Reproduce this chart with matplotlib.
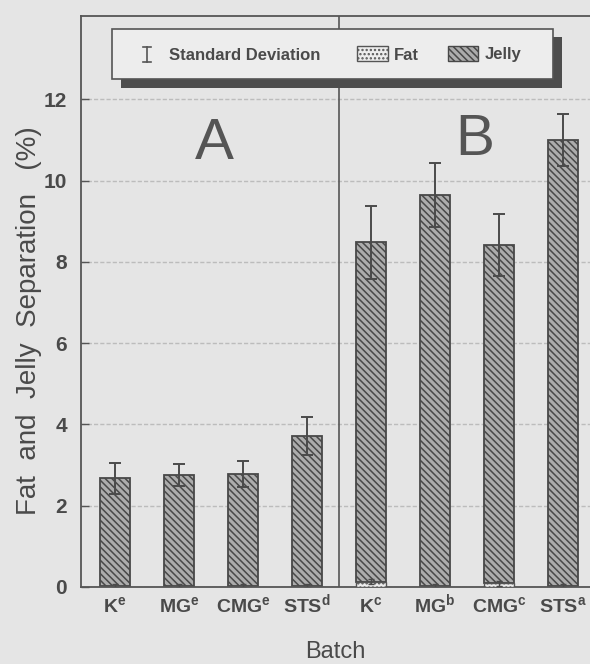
import matplotlib.pyplot as plt
import numpy as np
from matplotlib.patches import Rectangle
from matplotlib.lines import Line2D

# values
batches = [r"$\mathbf{K}^{\mathbf{e}}$", r"$\mathbf{MG}^{\mathbf{e}}$", r"$\mathbf{CMG}^{\mathbf{e}}$",
           r"$\mathbf{STS}^{\mathbf{d}}$", r"$\mathbf{K}^{\mathbf{c}}$", r"$\mathbf{MG}^{\mathbf{b}}$",
           r"$\mathbf{CMG}^{\mathbf{c}}$", r"$\mathbf{STS}^{\mathbf{a}}$"]
fat = [0.02, 0.02, 0.02, 0.02, 0.13, 0.02, 0.09, 0.02]
fat_sd = [0.05, 0.05, 0.05, 0.05, 0.06, 0.05, 0.06, 0.05]
jelly = [2.66, 2.73, 2.76, 3.70, 8.35, 9.63, 8.32, 10.99]
jelly_sd = [0.38, 0.27, 0.33, 0.47, 0.90, 0.78, 0.76, 0.64]
y_ticks = [0, 2, 4, 6, 8, 10, 12]

INK = "#4a4a4a"
PAPER = "#e5e5e5"

plt.rcParams["font.family"] = ["Liberation Sans", "DejaVu Sans"]
plt.rcParams["mathtext.fontset"] = "custom"
plt.rcParams["mathtext.rm"] = "Liberation Sans"
plt.rcParams["mathtext.bf"] = "Liberation Sans:bold"
plt.rcParams["hatch.linewidth"] = 1.1
plt.rcParams["hatch.color"] = "#3c3c3c"

W, H = 590, 664
fig = plt.figure(figsize=(W / 100, H / 100), dpi=100, facecolor=PAPER)
ax = fig.add_axes([81 / W, 1 - 587 / H, (W - 81) / W, (587 - 16) / H], facecolor=PAPER)

x = np.arange(len(batches))
width = 0.47

ax.bar(x, fat, width, color="#ededed", edgecolor="#555555", hatch="....", linewidth=1.0, zorder=3)
ax.bar(x, jelly, width, bottom=fat, color="#acacac", edgecolor="#484848", hatch="\\\\\\\\\\",
       linewidth=1.3, zorder=2)
tops = np.array(fat) + np.array(jelly)
ax.errorbar(x, tops, yerr=jelly_sd, fmt="none", ecolor="#4a4a4a", elinewidth=1.4, capsize=4,
            capthick=1.4, zorder=4)
ax.errorbar(x, fat, yerr=fat_sd, fmt="none", ecolor="#4a4a4a", elinewidth=1.0, capsize=2,
            capthick=1.0, zorder=4)

ax.set_xlim(-0.53, 7.42)
ax.set_ylim(0, 14.05)
ax.axvline(3.5, color="#555555", lw=1.2, zorder=1)

ax.set_yticks(y_ticks)
ax.set_yticklabels([str(t) for t in y_ticks], fontsize=15, fontweight="bold", color=INK)
ax.set_xticks(x)
ax.set_xticklabels(batches, fontsize=14, color=INK)
for lab in ax.get_xticklabels():
    lab.set_verticalalignment("baseline")
ax.tick_params(axis="x", length=0, pad=19)
ax.tick_params(axis="y", direction="in", length=6, width=1.0, color="#555555", pad=10)

ax.grid(axis="y", color="#bcbcbc", lw=1.0, ls=(0, (3, 1.5)), zorder=0)
ax.set_axisbelow(True)

for side in ["left", "top", "bottom"]:
    ax.spines[side].set_color("#555555")
    ax.spines[side].set_linewidth(1.3)
ax.spines["right"].set_visible(False)

ax.set_ylabel("Fat  and  Jelly  Separation   (%)", fontsize=20, color=INK)
ax.yaxis.set_label_coords(-39 / (W - 81), (587 - 321) / (587 - 16))
ax.set_xlabel("Batch", fontsize=17, color=INK)
ax.xaxis.set_label_coords((335 - 81) / (W - 81), -(652 - 587) / (587 - 16))
ax.xaxis.label.set_verticalalignment("center")

ax.text(1.55, 10.9, "A", fontsize=42, color="#555555", ha="center", va="center")
ax.text(5.62, 11.0, "B", fontsize=42, color="#555555", ha="center", va="center")


def px(left, top):
    return left / W, 1 - top / H


# legend drawn by hand so the shadow matches the print
tf = fig.transFigure
sx, sy = px(121, 88)
fig.patches.append(Rectangle((sx, sy), (562 - 121) / W, (88 - 37) / H, transform=tf,
                             facecolor="#4d4d4d", edgecolor="none", zorder=5))
bx, by = px(112, 79)
fig.patches.append(Rectangle((bx, by), (553 - 112) / W, (79 - 29) / H, transform=tf,
                             facecolor="#ededed", edgecolor="#555555", lw=1.2, zorder=6))

cx = 147 / W
fig.lines.append(Line2D([cx, cx], [1 - 47 / H, 1 - 62 / H], transform=tf, color="#555555", lw=1.2, zorder=7))
for yy in (47, 62):
    fig.lines.append(Line2D([cx - 4 / W, cx + 4 / W], [1 - yy / H] * 2, transform=tf,
                            color="#555555", lw=1.2, zorder=7))
tx, ty = px(169, 55)
fig.text(tx, ty, "Standard Deviation", fontsize=12, fontweight="bold", color=INK, va="center", zorder=7)

fx, fy = px(357, 61)
fig.patches.append(Rectangle((fx, fy), 31 / W, 15 / H, transform=tf, facecolor="#ededed",
                             edgecolor="#555555", hatch="....", lw=1.0, zorder=7))
tx, ty = px(394, 55)
fig.text(tx, ty, "Fat", fontsize=12, fontweight="bold", color=INK, va="center", zorder=7)

jx, jy = px(448, 61)
fig.patches.append(Rectangle((jx, jy), 30 / W, 15 / H, transform=tf, facecolor="#acacac",
                             edgecolor="#484848", hatch="\\\\\\\\\\", lw=1.0, zorder=7))
tx, ty = px(485, 55)
fig.text(tx, ty, "Jelly", fontsize=12, fontweight="bold", color=INK, va="center", zorder=7)

plt.savefig("out.png", dpi=100, facecolor=PAPER)
